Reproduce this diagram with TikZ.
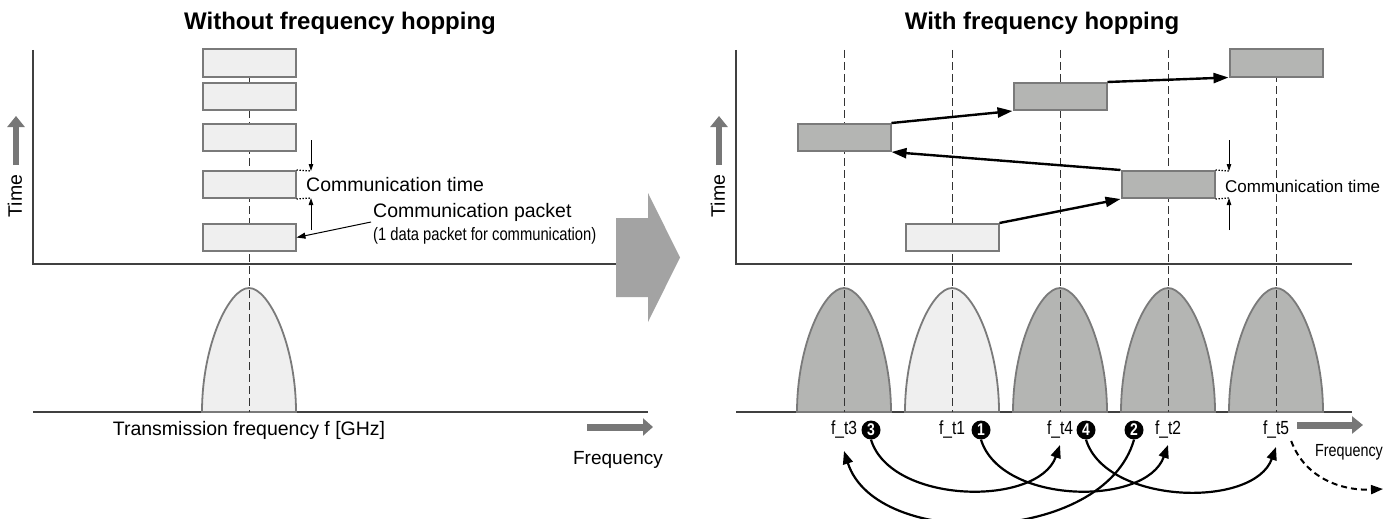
\documentclass[tikz,border=0pt]{standalone}
\usepackage{fontspec}
\setmainfont{Liberation Sans}
\newfontfamily\narrowf[FakeStretch=0.82]{Liberation Sans}
\usetikzlibrary{arrows.meta}
\definecolor{lightf}{HTML}{EFEFEF}
\definecolor{darkf}{HTML}{B4B5B3}
\definecolor{pktb}{HTML}{7A7A7A}
\definecolor{bigarr}{HTML}{A3A3A3}
\definecolor{thickg}{HTML}{777777}
\tikzset{
  axisline/.style={line width=1.3pt, draw=black!75},
  guide/.style={line width=1pt, draw=black!80, dash pattern=on 8pt off 4pt},
  pkt/.style={draw=pktb, line width=2pt, minimum width=93pt, minimum height=27pt, inner sep=0pt},
  lightpkt/.style={pkt, fill=lightf},
  darkpkt/.style={pkt, fill=darkf},
  bell/.style={draw=pktb, line width=1.8pt},
  hoparrow/.style={line width=2.4pt, -{Triangle[length=15pt,width=10pt]}},
  curvarrow/.style={line width=2.2pt, -{Triangle[length=13pt,width=10pt]}},
  dashcurve/.style={line width=2pt, dash pattern=on 6pt off 4pt, -{Triangle[length=12pt,width=9pt]}},
  thinarrow/.style={line width=0.9pt, -{Triangle[length=7pt,width=4.5pt]}},
  dots/.style={line width=1.3pt, dash pattern=on 1.3pt off 1.7pt},
  thickarrow/.style={draw=thickg, line width=6pt, -{Triangle[length=11pt,width=17pt]}},
  lbl/.style={font=\fontsize{19.5}{23}\selectfont, inner sep=0pt},
  titlef/.style={font=\fontsize{24}{28}\selectfont\bfseries, inner sep=0pt},
  flab/.style={font=\fontsize{19}{22}\selectfont\narrowf, inner sep=2pt},
  num/.style={circle, fill=black, text=white, inner sep=0pt, minimum size=19pt,
              font=\fontsize{17}{17}\selectfont\bfseries\narrowf},
}
\begin{document}
\begin{tikzpicture}[x=1pt,y=-1pt]
\useasboundingbox (0,0) rectangle (1397,519);
% ---------------- Left panel ----------------
\node[titlef] (tleft) at (340,23) {Without frequency hopping};
\fill[bigarr] (616,218) -- (648,218) -- (648,193) -- (680,257.5) -- (648,322) -- (648,297) -- (616,297) -- cycle;
\draw[axisline] (33,50) -- (33,264) -- (616,264);
\draw[axisline] (33,412) -- (648,412);
\draw[bell, fill=lightf] (202,412) .. controls (202,345) and (229,288) .. (249,288) .. controls (269,288) and (296,345) .. (296,412) -- cycle;
\draw[guide] (249,50) -- (249,412);
\node[lightpkt] (lp1) at (249,63) {};
\node[lightpkt] (lp2) at (249,96.5) {};
\node[lightpkt] (lp3) at (249,137) {};
\node[lightpkt] (lp4) at (249,184.5) {};
\node[lightpkt] (lp5) at (249,237.5) {};
\node[lbl, rotate=90] (timel) at (15,196) {Time};
\coordinate (tla) at (16,165);
\coordinate (tlb) at (16,116);
\draw[thickarrow] (tla) -- (tlb);
% communication time
\coordinate (lct1) at (311,171);
\coordinate (lct2) at (311,198);
\coordinate (lct1s) at (311,140);
\coordinate (lct2s) at (311,230);
\draw[dots] (lp4.north east) -- (lct1);
\draw[dots] (lp4.south east) -- (lct2);
\draw[thinarrow] (lct1s) -- (lct1);
\draw[thinarrow] (lct2s) -- (lct2);
\node[lbl, anchor=west] (lcomm) at (306,185) {Communication time};
\node[lbl, anchor=west] (lpkt) at (373,212) {Communication packet};
\node[font=\fontsize{18}{21}\selectfont\narrowf, inner sep=0pt, anchor=west] (lpkt2) at (373,236) {(1 data packet for communication)};
\coordinate (lpa) at (371,222);
\draw[line width=1pt, -{Triangle[length=9pt,width=6pt]}] (lpa) -- (lp5.east);
\node[lbl] (ltf) at (249,430) {Transmission frequency f [GHz]};
\coordinate (lfa) at (587,427);
\coordinate (lfb) at (653,427);
\draw[thickarrow, line width=7pt, -{Triangle[length=10pt,width=17pt]}] (lfa) -- (lfb);
\node[font=\fontsize{19}{22}\selectfont, inner sep=0pt] (lfreq) at (618,460) {Frequency};
% ---------------- Right panel ----------------
\node[titlef] (tright) at (1042,23) {With frequency hopping};
\draw[axisline] (736,50) -- (736,264) -- (1352,264);
\draw[axisline] (736,412) -- (1352,412);
\foreach \x/\c in {844/darkf, 952/lightf, 1060/darkf, 1168/darkf, 1276/darkf}{
  \draw[bell, fill=\c] ({\x-47},412) .. controls ({\x-47},345) and ({\x-20},288) .. (\x,288) .. controls ({\x+20},288) and ({\x+47},345) .. ({\x+47},412) -- cycle;
  \draw[guide] (\x,50) -- (\x,412);
}
\node[lightpkt] (rp1) at (952,237.5) {};
\node[darkpkt] (rp2) at (1168,184.5) {};
\node[darkpkt] (rp3) at (844,137.5) {};
\node[darkpkt] (rp4) at (1060,96.5) {};
\node[darkpkt] (rp5) at (1276,63) {};
\draw[hoparrow] (rp1.north east) -- (rp2.south west);
\draw[hoparrow] (rp2.north west) -- (rp3.south east);
\draw[hoparrow] (rp3.north east) -- (rp4.south west);
\draw[hoparrow] (rp4.north east) -- (rp5.south west);
\node[lbl, rotate=90] (timer) at (718,196) {Time};
\coordinate (tra) at (719,165);
\coordinate (trb) at (719,116);
\draw[thickarrow] (tra) -- (trb);
% communication time (right)
\coordinate (rct1) at (1229,171);
\coordinate (rct2) at (1229,198);
\coordinate (rct1s) at (1229,140);
\coordinate (rct2s) at (1229,230);
\draw[dots] (rp2.north east) -- (rct1);
\draw[dots] (rp2.south east) -- (rct2);
\draw[thinarrow] (rct1s) -- (rct1);
\draw[thinarrow] (rct2s) -- (rct2);
\node[font=\fontsize{17}{20}\selectfont, inner sep=0pt, anchor=west] (rcomm) at (1225,186) {Communication time};
% frequency labels
\node[flab] (ft3) at (844,430) {f\_t3};
\node[flab] (ft1) at (952,430) {f\_t1};
\node[flab] (ft4) at (1060,430) {f\_t4};
\node[flab] (ft2) at (1168,430) {f\_t2};
\node[flab] (ft5) at (1276,430) {f\_t5};
\node[num] (n3) at (871,430) {3};
\node[num] (n1) at (981,430) {1};
\node[num] (n4) at (1086,430) {4};
\node[num] (n2) at (1134,430) {2};
\draw[curvarrow] (n3.south) .. controls +(20,65) and +(-22,62) .. ([yshift=-4pt]ft4.south);
\draw[curvarrow] (n1.south) .. controls +(20,65) and +(-22,62) .. ([yshift=-4pt]ft2.south);
\draw[curvarrow] (n4.south) .. controls +(20,65) and +(-22,62) .. ([yshift=-6pt]ft5.south);
\draw[curvarrow] (n2.south) .. controls +(-30,105) and +(32,100) .. ([yshift=-10pt]ft3.south);
\coordinate (dend) at (1383,489);
\draw[dashcurve] (ft5.south east) .. controls +(14,38) and +(-40,2) .. (dend);
\coordinate (rfa) at (1297,425);
\coordinate (rfb) at (1363,425);
\draw[thickarrow, line width=7pt, -{Triangle[length=11pt,width=17pt]}] (rfa) -- (rfb);
\node[font=\fontsize{17.5}{20}\selectfont\narrowf, inner sep=0pt] (rfreq) at (1349,452) {Frequency};
\end{tikzpicture}
\end{document}
